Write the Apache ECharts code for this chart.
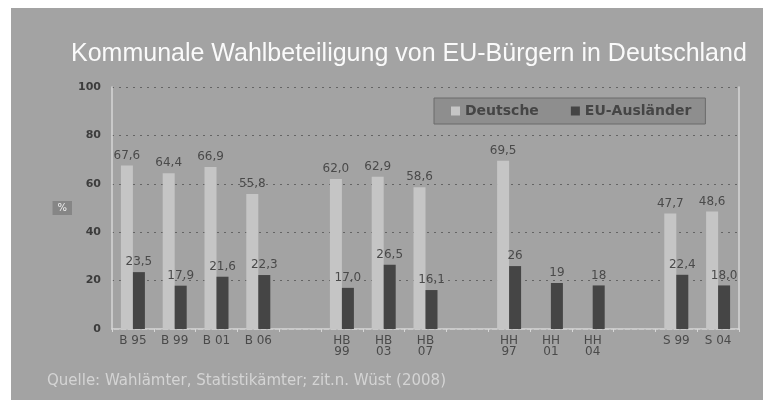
<!DOCTYPE html>
<html lang="de">
<head>
    <meta charset="UTF-8">
    <title>Kommunale Wahlbeteiligung</title>
    <script src="https://cdn.jsdelivr.net/npm/echarts@6/dist/echarts.min.js"></script>
    <style>
        body {
            margin: 0;
            background: #fff;
        }

        #chart {
            position: absolute;
            left: 11px;
            top: 8px;
            width: 752px;
            height: 392px;
        }
    </style>
</head>
<body>
    <div id="chart"></div>
    <script>
        // Kategorien (leere Einträge = Abstand zwischen Städten)
        var categories = ['B 95', 'B 99', 'B 01', 'B 06', '', 'HB\n99', 'HB\n03', 'HB\n07', '',
            'HH\n97', 'HH\n01', 'HH\n04', '', 'S 99', 'S 04'];
        var deutsche = [67.6, 64.4, 66.9, 55.8, null, 62.0, 62.9, 58.6, null,
            69.5, null, null, null, 47.7, 48.6];
        var euAuslaender = [23.5, 17.9, 21.6, 22.3, null, 17.0, 26.5, 16.1, null,
            26, 19, 18, null, 22.4, 18.0];
        // HH-Werte ohne Nachkommastelle
        var euLabels = ['23,5', '17,9', '21,6', '22,3', '', '17,0', '26,5', '16,1', '',
            '26', '19', '18', '', '22,4', '18,0'];
        var yTicks = [0, 20, 40, 60, 80, 100];

        var chart = echarts.init(document.getElementById('chart'));

        var labelFont = {
            fontFamily: 'DejaVu Sans',
            fontSize: 12,
            color: '#4a4a4a'
        };

        var option = {
            backgroundColor: '#a3a3a3',
            animation: false,
            title: {
                text: 'Kommunale Wahlbeteiligung von EU-Bürgern in Deutschland',
                left: 55,
                top: 29,
                textStyle: {
                    fontFamily: 'Liberation Sans',
                    fontWeight: 'normal',
                    fontSize: 25,
                    color: '#fafafa'
                }
            },
            legend: {
                left: 423,
                top: 90,
                padding: [6, 14, 6, 17],
                itemWidth: 9,
                itemHeight: 9,
                itemGap: 32,
                backgroundColor: '#8e8e8e',
                borderColor: '#6a6a6a',
                borderWidth: 1,
                textStyle: {
                    fontFamily: 'DejaVu Sans',
                    fontWeight: 'bold',
                    fontSize: 14,
                    color: '#454545'
                },
                data: [
                    { name: 'Deutsche', icon: 'rect' },
                    { name: 'EU-Ausländer', icon: 'rect' }
                ]
            },
            grid: {
                left: 101,
                right: 24,
                top: 79,
                bottom: 71
            },
            xAxis: {
                type: 'category',
                data: categories,
                axisLine: { lineStyle: { color: '#d6d6d6', width: 1.5 } },
                axisTick: { show: true, length: 3, lineStyle: { color: '#d6d6d6' } },
                axisLabel: {
                    interval: 0,
                    margin: 6,
                    lineHeight: 11,
                    fontFamily: 'DejaVu Sans',
                    fontSize: 12,
                    color: '#4a4a4a'
                }
            },
            yAxis: [{
                type: 'value',
                min: yTicks[0],
                max: yTicks[yTicks.length - 1],
                interval: 20,
                name: '%',
                nameLocation: 'middle',
                nameRotate: 0,
                nameGap: 40,
                nameTextStyle: {
                    color: '#f0f0f0',
                    fontFamily: 'DejaVu Sans',
                    fontSize: 10,
                    backgroundColor: '#868686',
                    padding: [2, 5, 2, 5]
                },
                axisLine: { show: true, lineStyle: { color: '#d6d6d6', width: 1.5 } },
                axisTick: { show: false },
                axisLabel: {
                    margin: 11,
                    fontFamily: 'DejaVu Sans',
                    fontWeight: 'bold',
                    fontSize: 11,
                    color: '#3c3c3c'
                },
                splitLine: {
                    lineStyle: { color: '#646464', type: [2, 5], width: 1 }
                }
            }, {
                type: 'value',
                min: 0,
                max: 100,
                interval: 20,
                position: 'right',
                axisLine: { show: true, lineStyle: { color: '#d6d6d6', width: 1.5 } },
                axisTick: { show: false },
                axisLabel: { show: false },
                splitLine: { show: false }
            }],
            series: [{
                name: 'Deutsche',
                type: 'bar',
                data: deutsche,
                barWidth: 12,
                barGap: '0%',
                itemStyle: { color: '#c5c5c5' },
                label: {
                    show: true,
                    position: 'top',
                    distance: 4,
                    fontFamily: labelFont.fontFamily,
                    fontSize: labelFont.fontSize,
                    color: labelFont.color,
                    formatter: function (p) {
                        return p.value.toFixed(1).replace('.', ',');
                    }
                }
            }, {
                name: 'EU-Ausländer',
                type: 'bar',
                data: euAuslaender,
                barWidth: 12,
                itemStyle: { color: '#454545' },
                label: {
                    show: true,
                    position: 'top',
                    distance: 4,
                    fontFamily: labelFont.fontFamily,
                    fontSize: labelFont.fontSize,
                    color: labelFont.color,
                    formatter: function (p) {
                        return euLabels[p.dataIndex];
                    }
                }
            }],
            graphic: [{
                type: 'text',
                left: 36,
                top: 366,
                style: {
                    text: 'Quelle: Wahlämter, Statistikämter; zit.n. Wüst (2008)',
                    fontFamily: 'DejaVu Sans',
                    fontSize: 15,
                    fill: '#d4d4d4'
                }
            }]
        };

        chart.setOption(option);
    </script>
</body>
</html>
